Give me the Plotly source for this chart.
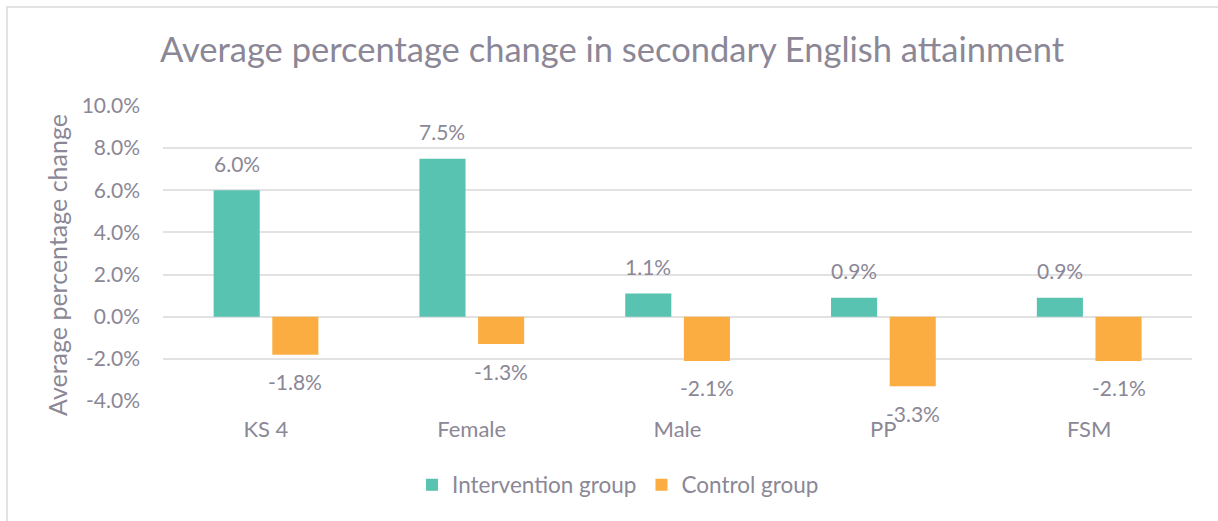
import plotly.graph_objects as go

categories = ["KS 4", "Female", "Male", "PP", "FSM"]
intervention = [6.0, 7.5, 1.1, 0.9, 0.9]
control = [-1.8, -1.3, -2.1, -3.3, -2.1]
y_ticks = [-4, -2, 0, 2, 4, 6, 8, 10]

TEXT = "#8B8796"
GRID = "#E2E2E2"
FONT = "Lato, 'Open Sans', sans-serif"

W, H = 1218, 521
L, R, T, B = 163, 26, 106, 120
pw, ph = W - L - R, H - T - B

BAR_W = 0.224
OFFSETS = {"Intervention group": -0.254, "Control group": 0.031}
COLORS = {"Intervention group": "#57C3B0", "Control group": "#FBAD42"}
SERIES = {"Intervention group": intervention, "Control group": control}

fig = go.Figure()
annotations = []
cat_px = pw / len(categories)
for name, values in SERIES.items():
    off = OFFSETS[name]
    fig.add_trace(go.Bar(
        x=categories, y=values, name=name,
        marker=dict(color=COLORS[name], line=dict(width=0)),
        width=BAR_W, offset=off, cliponaxis=False,
    ))
    # value labels sit just beyond the end of each bar
    for cat, v in zip(categories, values):
        annotations.append(dict(
            x=cat, y=v, xref="x", yref="y",
            text=f"{v:.1f}%", showarrow=False,
            xshift=(off + BAR_W / 2) * cat_px,
            yshift=27 if v >= 0 else -27,
            xanchor="center", yanchor="middle",
            font=dict(size=21, color=TEXT, family=FONT),
        ))

# rotated y-axis title
annotations.append(dict(
    x=(57 - L) / pw, y=(H - B - 265) / ph, xref="paper", yref="paper",
    text="Average percentage change", textangle=-90, showarrow=False,
    xanchor="center", yanchor="middle",
    font=dict(size=25, color=TEXT, family=FONT),
))

fig.update_layout(
    width=W, height=H,
    margin=dict(l=L, r=R, t=T, b=B),
    barmode="overlay",
    paper_bgcolor="white", plot_bgcolor="white",
    font=dict(family=FONT, color=TEXT, size=21),
    title=dict(text="Average percentage change in secondary English attainment",
               x=160 / W, xanchor="left", y=1 - 50 / H, yanchor="middle",
               font=dict(size=34.5, color=TEXT, family=FONT)),
    legend=dict(orientation="h", x=(618 - L) / pw, xanchor="center",
                y=-(485 - (H - B)) / ph, yanchor="middle",
                font=dict(size=22.5, color=TEXT, family=FONT), itemwidth=30,
                traceorder="normal"),
    showlegend=True,
    annotations=annotations,
)
fig.update_xaxes(showgrid=False, showline=False, zeroline=False, ticks="",
                 tickfont=dict(size=22, color=TEXT, family=FONT), ticklabelstandoff=13)
fig.update_yaxes(range=[-4, 10], tickvals=y_ticks, ticktext=[f"{v:.1f}%" for v in y_ticks],
                 showgrid=True, gridcolor=GRID, gridwidth=1.5, zeroline=True,
                 zerolinecolor=GRID, zerolinewidth=1.5, showline=False,
                 tickfont=dict(size=21, color=TEXT, family=FONT), ticklabelstandoff=22)

fig.add_shape(type="rect", xref="paper", yref="paper",
              x0=(7 - L) / pw, x1=(W + 10 - L) / pw,
              y0=(H - (H + 10) - B) / ph, y1=(H - 7 - B) / ph,
              line=dict(color="#DADADA", width=1.5), fillcolor="rgba(0,0,0,0)", layer="below")

fig.write_html("out.html")
